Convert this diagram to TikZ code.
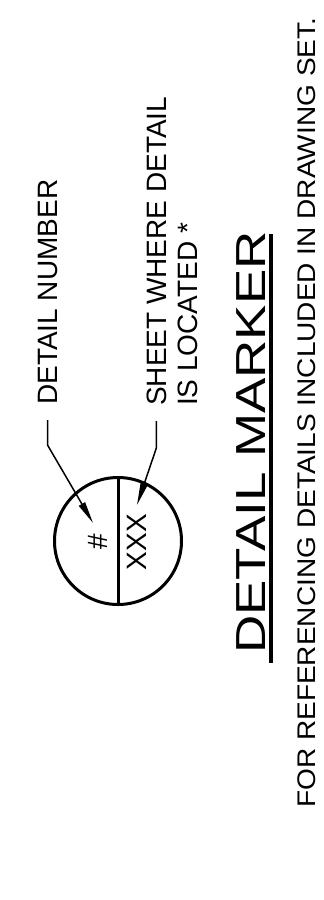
\documentclass[tikz,border=0pt]{standalone}
\usepackage{fontspec}
\setmainfont{Liberation Sans}
\usepackage{graphicx}
\usetikzlibrary{arrows.meta,calc}

\begin{document}
\begin{tikzpicture}[
  x=1pt,y=-1pt,
  lbl/.style={rotate=90,anchor=base west,inner sep=0pt,font=\fontsize{28}{31}\selectfont},
  sym/.style={rotate=90,inner sep=0pt,font=\fontsize{28}{31}\selectfont},
  titletext/.style={rotate=90,anchor=base west,inner sep=0pt,font=\fontsize{42}{48}\selectfont},
  notetext/.style={rotate=90,anchor=base west,inner sep=0pt,font=\fontsize{25.5}{30}\selectfont},
  ring/.style={circle,draw,line width=3pt,minimum size=127pt,inner sep=0pt,outer sep=0pt},
  leader/.style={line width=1.5pt,-{Triangle[length=22pt,width=7pt]}}
]
\useasboundingbox (0,0) rectangle (324,900);
\node[ring] (marker) at (118,541) {};
\draw[line width=3pt] (marker.north) -- (marker.south);
\node[sym] (hash) at (98,542) {\#};
\node[sym] (code) at (137,542) {XXX};
\node[lbl] (num) at (57,405) {DETAIL NUMBER};
\node[lbl] (sheet) at (166,406) {SHEET WHERE DETAIL};
\node[lbl] (loc) at (197,406) {IS LOCATED *};
\coordinate (numtip) at (93,523);
\coordinate (codetip) at (137,505);
\draw[leader] ([shift={(0,15)}]num.west) -- ++(0,25) -- (numtip);
\draw[leader] ([shift={(0,15)}]sheet.west) -- ++(0,27) -- (codetip);
\node[titletext] (title) at (265,654) {\scalebox{1.26}[1]{DETAIL MARKER}};
\draw[line width=4pt] ([shift={(6,9)}]title.base west) -- ([shift={(6,3)}]title.base east);
\node[notetext] (note) at (315,808) {\scalebox{1.10}[1]{FOR REFERENCING DETAILS INCLUDED IN DRAWING SET.}};
\end{tikzpicture}
\end{document}
